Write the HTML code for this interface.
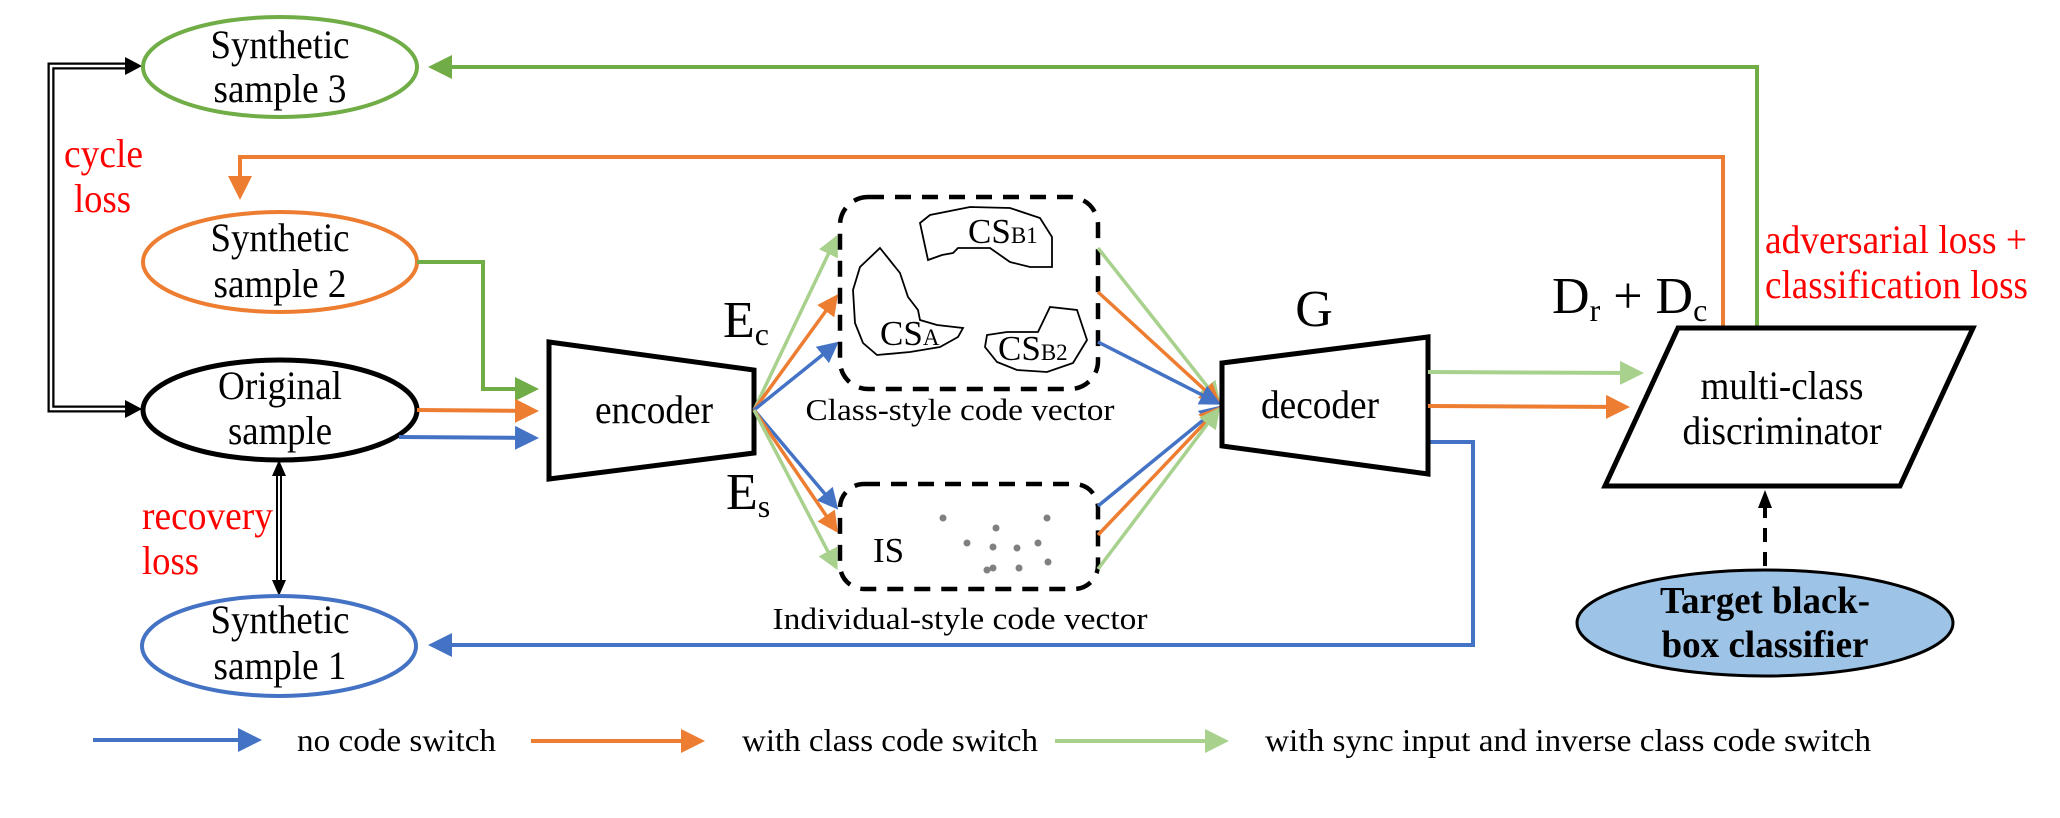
<!DOCTYPE html>
<html><head><meta charset="utf-8"><style>
html,body{margin:0;padding:0;background:#fff;}
svg{display:block;}
text{font-family:"Liberation Serif",serif;}
</style></head><body>
<svg width="2060" height="818" viewBox="0 0 2060 818" xmlns="http://www.w3.org/2000/svg">
<defs>
<marker id="ab" markerWidth="6" markerHeight="6" refX="5" refY="3" orient="auto" markerUnits="strokeWidth"><path d="M0,0 L6,3 L0,6 z" fill="#4472c4"/></marker>
<marker id="ao" markerWidth="6" markerHeight="6" refX="5" refY="3" orient="auto" markerUnits="strokeWidth"><path d="M0,0 L6,3 L0,6 z" fill="#ed7d31"/></marker>
<marker id="ag" markerWidth="6" markerHeight="6" refX="5" refY="3" orient="auto" markerUnits="strokeWidth"><path d="M0,0 L6,3 L0,6 z" fill="#70ad47"/></marker>
<marker id="al" markerWidth="6" markerHeight="6" refX="5" refY="3" orient="auto" markerUnits="strokeWidth"><path d="M0,0 L6,3 L0,6 z" fill="#a9d18e"/></marker>
</defs>

<path d="M128,66 L51,66 L51,409 L128,409" fill="none" stroke="#000" stroke-width="7"/>
<path d="M128,66 L51,66 L51,409 L128,409" fill="none" stroke="#fff" stroke-width="2.5"/>
<path d="M125,57 L142,66 L125,75 z"/>
<path d="M125,400 L142,409 L125,418 z"/>
<line x1="279" y1="474" x2="279" y2="582" stroke="#000" stroke-width="6"/>
<line x1="279" y1="474" x2="279" y2="582" stroke="#fff" stroke-width="2"/>
<path d="M272,476 L279,460 L286,476 z"/>
<path d="M272,580 L279,596 L286,580 z"/>

<ellipse cx="280" cy="67" rx="137" ry="50" fill="#fff" stroke="#70ad47" stroke-width="4"/>
<ellipse cx="280" cy="262" rx="137" ry="50" fill="#fff" stroke="#ed7d31" stroke-width="4"/>
<ellipse cx="280" cy="410" rx="137" ry="50" fill="#fff" stroke="#000" stroke-width="5"/>
<ellipse cx="279" cy="646" rx="137" ry="50" fill="#fff" stroke="#4472c4" stroke-width="4"/>

<g font-size="40" text-anchor="middle">
<text x="280" y="58" textLength="139" lengthAdjust="spacingAndGlyphs">Synthetic</text>
<text x="280" y="102" textLength="133" lengthAdjust="spacingAndGlyphs">sample 3</text>
<text x="280" y="251" textLength="139" lengthAdjust="spacingAndGlyphs">Synthetic</text>
<text x="280" y="297" textLength="133" lengthAdjust="spacingAndGlyphs">sample 2</text>
<text x="280" y="399" textLength="124" lengthAdjust="spacingAndGlyphs">Original</text>
<text x="280" y="444" textLength="104" lengthAdjust="spacingAndGlyphs">sample</text>
<text x="280" y="633" textLength="139" lengthAdjust="spacingAndGlyphs">Synthetic</text>
<text x="280" y="679" textLength="133" lengthAdjust="spacingAndGlyphs">sample 1</text>
</g>
<g font-size="40" fill="#ff0000">
<text x="64" y="167" textLength="79" lengthAdjust="spacingAndGlyphs">cycle</text>
<text x="74" y="212" textLength="57" lengthAdjust="spacingAndGlyphs">loss</text>
<text x="142" y="529" textLength="131" lengthAdjust="spacingAndGlyphs">recovery</text>
<text x="142" y="574" textLength="57" lengthAdjust="spacingAndGlyphs">loss</text>
<text x="1765" y="253" textLength="262" lengthAdjust="spacingAndGlyphs">adversarial loss +</text>
<text x="1765" y="298" textLength="263" lengthAdjust="spacingAndGlyphs">classification loss</text>
</g>

<polyline points="1757,328 1757,67 432,67" fill="none" stroke="#70ad47" stroke-width="4" marker-end="url(#ag)"/>
<polyline points="1723,328 1723,157 240,157 240,196" fill="none" stroke="#ed7d31" stroke-width="4" marker-end="url(#ao)"/>
<polyline points="1428,442 1473,442 1473,645 432,645" fill="none" stroke="#4472c4" stroke-width="4" marker-end="url(#ab)"/>

<polyline points="417,262 483,262 483,389 535,389" fill="none" stroke="#70ad47" stroke-width="4" marker-end="url(#ag)"/>
<line x1="417" y1="410" x2="535" y2="411" stroke="#ed7d31" stroke-width="4" marker-end="url(#ao)"/>
<line x1="399" y1="437" x2="535" y2="438" stroke="#4472c4" stroke-width="4" marker-end="url(#ab)"/>

<polygon points="549,342 754,370 754,453 549,479" fill="#fff" stroke="#000" stroke-width="5"/>
<text x="654" y="423" font-size="40" text-anchor="middle" textLength="118" lengthAdjust="spacingAndGlyphs">encoder</text>
<text x="723" y="337" font-size="52">E<tspan font-size="32" dy="8">c</tspan></text>
<text x="726" y="509" font-size="52">E<tspan font-size="32" dy="8">s</tspan></text>

<g stroke-width="3.5" fill="none">
<line x1="754" y1="410" x2="836" y2="238" stroke="#a9d18e" marker-end="url(#al)"/>
<line x1="754" y1="410" x2="836" y2="297" stroke="#ed7d31" marker-end="url(#ao)"/>
<line x1="754" y1="410" x2="836" y2="344" stroke="#4472c4" marker-end="url(#ab)"/>
<line x1="754" y1="410" x2="836" y2="507" stroke="#4472c4" marker-end="url(#ab)"/>
<line x1="754" y1="410" x2="836" y2="530" stroke="#ed7d31" marker-end="url(#ao)"/>
<line x1="754" y1="410" x2="836" y2="567" stroke="#a9d18e" marker-end="url(#al)"/>
</g>

<rect x="840" y="197" width="258" height="192" rx="28" fill="none" stroke="#000" stroke-width="4.5" stroke-dasharray="16,11"/>
<rect x="840" y="484" width="258" height="105" rx="24" fill="none" stroke="#000" stroke-width="4.5" stroke-dasharray="16,11"/>
<g fill="none" stroke="#000" stroke-width="1.8">
<path d="M920,223 L930,215 L970,207 L1010,208 L1040,218 L1052,237 L1052,267 L1030,267 L1010,262 L990,248 L958,248 L953,253 L942,255 L928,260 Z"/>
<path d="M880,248 L900,273 L908,297 L918,310 L920,320 L937,325 L963,328 L958,337 L940,347 L910,352 L877,355 L863,343 L855,323 L853,290 L860,267 Z"/>
<path d="M987,335 L1007,332 L1038,332 L1050,307 L1077,310 L1087,340 L1073,363 L1047,372 L1017,370 L997,362 L985,347 Z"/>
</g>
<text x="968" y="243" font-size="35">CS<tspan font-size="23">B1</tspan></text>
<text x="880" y="345" font-size="35">CS<tspan font-size="23">A</tspan></text>
<text x="998" y="360" font-size="35">CS<tspan font-size="23">B2</tspan></text>
<text x="873" y="562" font-size="35">IS</text>
<g fill="#808080">
<circle cx="943" cy="518" r="3.5"/><circle cx="1047" cy="518" r="3.5"/><circle cx="996" cy="528" r="3.5"/>
<circle cx="967" cy="543" r="3.5"/><circle cx="993" cy="547" r="3.5"/><circle cx="1017" cy="548" r="3.5"/>
<circle cx="1038" cy="543" r="3.5"/><circle cx="1048" cy="562" r="3.5"/><circle cx="993" cy="568" r="3.5"/>
<circle cx="987" cy="570" r="3.5"/><circle cx="1019" cy="568" r="3.5"/>
</g>
<text x="960" y="420" font-size="31" text-anchor="middle" textLength="309" lengthAdjust="spacingAndGlyphs">Class-style code vector</text>
<text x="960" y="629" font-size="31" text-anchor="middle" textLength="375" lengthAdjust="spacingAndGlyphs">Individual-style code vector</text>

<g stroke-width="3.5" fill="none">
<line x1="1098" y1="248" x2="1218" y2="400" stroke="#a9d18e" marker-end="url(#al)"/>
<line x1="1098" y1="292" x2="1218" y2="402" stroke="#ed7d31" marker-end="url(#ao)"/>
<line x1="1098" y1="342" x2="1218" y2="403" stroke="#4472c4" marker-end="url(#ab)"/>
<line x1="1098" y1="506" x2="1218" y2="408" stroke="#4472c4" marker-end="url(#ab)"/>
<line x1="1098" y1="535" x2="1218" y2="409" stroke="#ed7d31" marker-end="url(#ao)"/>
<line x1="1098" y1="569" x2="1218" y2="410" stroke="#a9d18e" marker-end="url(#al)"/>
</g>

<polygon points="1222,363 1428,337 1428,474 1222,446" fill="#fff" stroke="#000" stroke-width="5"/>
<text x="1320" y="418" font-size="40" text-anchor="middle" textLength="118" lengthAdjust="spacingAndGlyphs">decoder</text>
<text x="1314" y="326" font-size="52" text-anchor="middle">G</text>
<text x="1552" y="313" font-size="52">D<tspan font-size="32" dy="8">r</tspan><tspan dy="-8"> + D</tspan><tspan font-size="32" dy="8">c</tspan></text>

<line x1="1428" y1="372" x2="1640" y2="373" stroke="#a9d18e" stroke-width="4" marker-end="url(#al)"/>
<line x1="1428" y1="406" x2="1626" y2="407" stroke="#ed7d31" stroke-width="4" marker-end="url(#ao)"/>

<polygon points="1678,328 1973,328 1900,486 1605,486" fill="#fff" stroke="#000" stroke-width="5"/>
<text x="1782" y="399" font-size="40" text-anchor="middle" textLength="163" lengthAdjust="spacingAndGlyphs">multi-class</text>
<text x="1782" y="444" font-size="40" text-anchor="middle" textLength="199" lengthAdjust="spacingAndGlyphs">discriminator</text>

<line x1="1765" y1="566" x2="1765" y2="505" stroke="#000" stroke-width="4" stroke-dasharray="14,10"/>
<path d="M1758,508 L1765,490 L1772,508 z"/>
<ellipse cx="1765" cy="623" rx="188" ry="53" fill="#9dc3e6" stroke="#000" stroke-width="3"/>
<text x="1765" y="613" font-size="38" font-weight="bold" text-anchor="middle" textLength="210" lengthAdjust="spacingAndGlyphs">Target black-</text>
<text x="1765" y="657" font-size="38" font-weight="bold" text-anchor="middle" textLength="207" lengthAdjust="spacingAndGlyphs">box classifier</text>

<line x1="93" y1="740" x2="258" y2="740" stroke="#4472c4" stroke-width="4" marker-end="url(#ab)"/>
<text x="297" y="751" font-size="32" textLength="199" lengthAdjust="spacingAndGlyphs">no code switch</text>
<line x1="531" y1="741" x2="701" y2="741" stroke="#ed7d31" stroke-width="4" marker-end="url(#ao)"/>
<text x="742" y="751" font-size="32" textLength="296" lengthAdjust="spacingAndGlyphs">with class code switch</text>
<line x1="1055" y1="741" x2="1225" y2="741" stroke="#a9d18e" stroke-width="4" marker-end="url(#al)"/>
<text x="1265" y="751" font-size="32" textLength="606" lengthAdjust="spacingAndGlyphs">with sync input and inverse class code switch</text>
</svg>
</body></html>
